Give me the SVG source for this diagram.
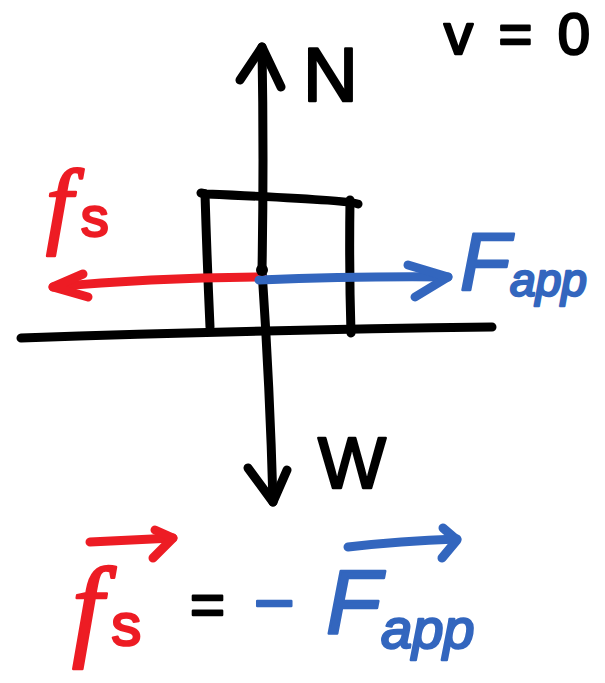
<svg xmlns="http://www.w3.org/2000/svg" width="605" height="683" viewBox="0 0 605 683">
<style>
.ln{fill:none;stroke-width:9;stroke-linecap:round;stroke-linejoin:round}
.k{stroke:#000}
.r{stroke:#ED1C24}
.b{stroke:#3366BE}
.t{stroke-width:2.5;stroke-linejoin:round}
.tk{fill:#000;stroke:#000}
.tr{fill:#ED1C24;stroke:#ED1C24}
.tb{fill:#3366BE;stroke:#3366BE}
.sans{font-family:"Liberation Sans",Arial,sans-serif}
.ser{font-family:"Liberation Serif","Times New Roman",serif;font-style:italic}
</style>
<rect width="605" height="683" fill="#fff"/>
<g id="ground">
<path class="ln k" d="M21 338 Q250 330 492 327"/>
</g>
<g id="block">
<path class="ln k" d="M201 193 L206 194 Q350 200 358 204"/>
<path class="ln k" d="M205 194 Q207 260 210 327"/>
<path class="ln k" d="M350 200 Q349 270 351 333"/>
</g>
<g id="connectors">
<path class="ln k" d="M262 47 Q264 160 262 270 Q270 390 273 502"/>
<path class="ln k" d="M240 80 L262 47 L281 87"/>
<path class="ln k" d="M248 468 L273 502 L287 470"/>
<path class="ln r" d="M262 277 Q150 278 53 287"/>
<path class="ln r" d="M83 274 L53 287 L88 297"/>
<path class="ln b" d="M259 280 Q360 276 448 277"/>
<path class="ln b" d="M408 265 L448 277 L415 297"/>
<circle cx="262" cy="270" r="6" fill="#000"/>
</g>
<g id="label-N">
<text class="sans t tk" x="303" y="101" font-size="76">N</text>
</g>
<g id="label-W">
<text class="sans t tk" x="318" y="488" font-size="72">W</text>
</g>
<g id="label-v0">
<text class="sans t tk" x="444" y="54" font-size="58" textLength="146" lengthAdjust="spacing">v=0</text>
</g>
<g id="label-fs">
<text class="t tr" x="46" y="236"><tspan class="ser" font-size="96">f</tspan><tspan class="sans" font-size="56" dx="8">s</tspan></text>
</g>
<g id="label-Fapp">
<text class="sans t tb" x="460" y="290" font-style="italic"><tspan font-size="82">F</tspan><tspan font-size="46" dy="6">app</tspan></text>
</g>
<g id="equation">
<path class="ln r" d="M90 542 L173 538"/>
<path class="ln r" d="M155 530 L173 538 L153 558"/>
<text class="t tr" x="72" y="645"><tspan class="ser" font-size="112">f</tspan><tspan class="sans" font-size="60" dx="8">s</tspan></text>
<text class="sans t tk" x="190" y="625" font-size="60">=</text>
<text class="sans t tb" x="254" y="627" font-size="70">−</text>
<path class="ln b" d="M348 547 Q400 541 457 539"/>
<path class="ln b" d="M443 528 L457 540 L442 558"/>
<text class="sans t tb" x="326" y="633" font-style="italic"><tspan font-size="90">F</tspan><tspan font-size="56" dy="15">app</tspan></text>
</g>
</svg>
